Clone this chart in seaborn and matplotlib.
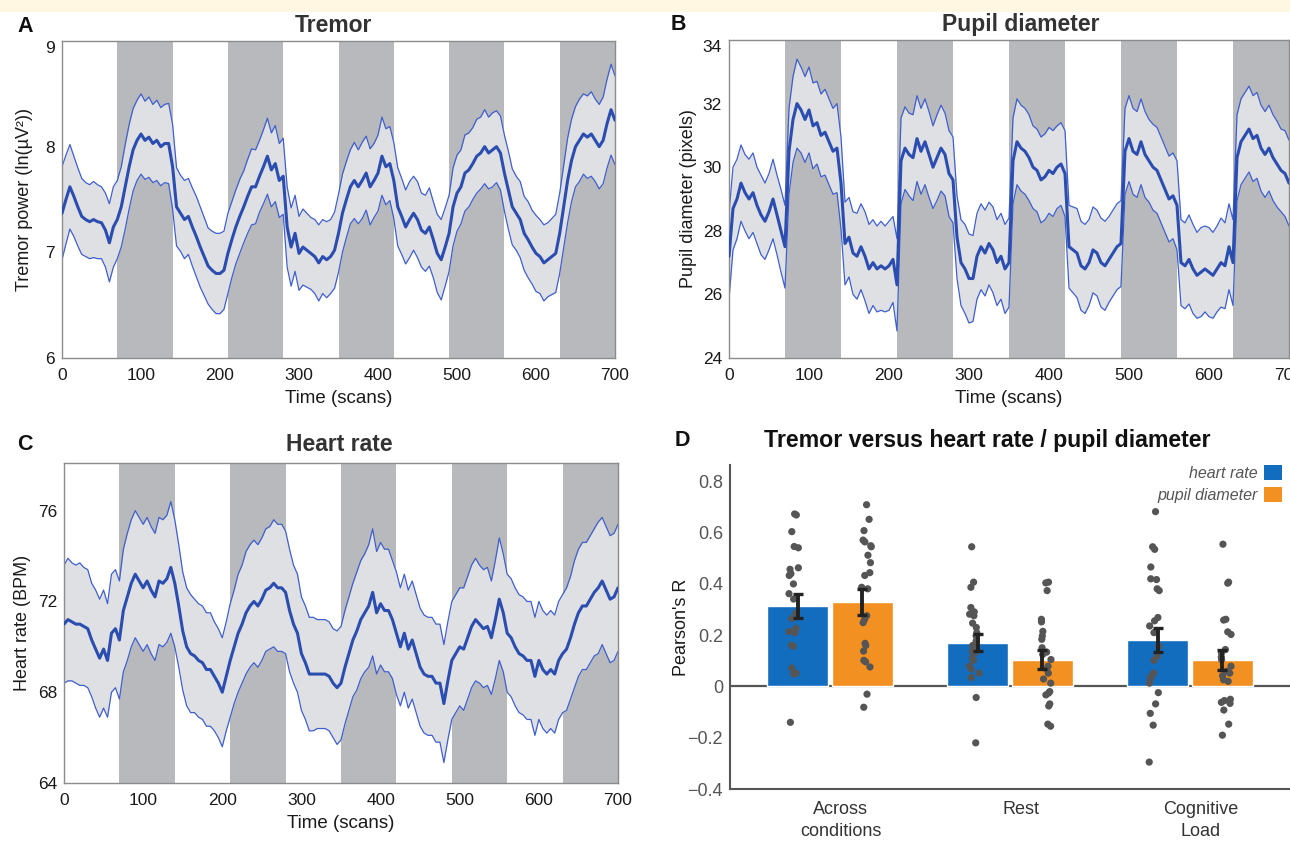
"""
Tremor / pupil / heart-rate block-design figure (panels A-D).
Writes out.png (1290x843).
"""

import numpy as np
import pandas as pd
import matplotlib
matplotlib.use("Agg")
import matplotlib.pyplot as plt
from matplotlib.patches import Patch, Rectangle
from matplotlib.ticker import MultipleLocator, FuncFormatter
import seaborn as sns

# ── Data: time courses (group mean and SEM, every 5 scans) ────────────────────
scans = np.arange(0, 701, 5)
task_blocks = [(70, 140), (210, 280), (350, 420), (490, 560), (630, 700)]

tremor_mean = [
    7.37, 7.50, 7.62, 7.53, 7.43, 7.34, 7.31, 7.29, 7.31, 7.29,
    7.28, 7.21, 7.09, 7.24, 7.31, 7.43, 7.62, 7.81, 7.97, 8.06,
    8.12, 8.06, 8.09, 8.03, 8.06, 8.00, 8.03, 8.03, 7.81, 7.43,
    7.37, 7.31, 7.34, 7.24, 7.15, 7.05, 6.96, 6.87, 6.83, 6.80,
    6.80, 6.83, 6.99, 7.12, 7.24, 7.34, 7.43, 7.53, 7.62, 7.62,
    7.72, 7.81, 7.91, 7.78, 7.84, 7.68, 7.72, 7.24, 7.05, 7.18,
    6.99, 7.05, 7.02, 6.99, 6.96, 6.90, 6.96, 6.93, 6.96, 7.02,
    7.18, 7.37, 7.50, 7.62, 7.68, 7.62, 7.68, 7.75, 7.62, 7.68,
    7.75, 7.91, 7.81, 7.84, 7.68, 7.43, 7.34, 7.24, 7.31, 7.37,
    7.31, 7.21, 7.18, 7.24, 7.12, 6.99, 6.93, 7.05, 7.18, 7.43,
    7.56, 7.62, 7.75, 7.78, 7.84, 7.91, 7.94, 8.00, 7.94, 7.97,
    8.00, 7.94, 7.75, 7.59, 7.43, 7.37, 7.31, 7.18, 7.12, 7.05,
    6.99, 6.96, 6.90, 6.93, 6.96, 6.99, 7.18, 7.43, 7.68, 7.87,
    8.00, 8.06, 8.12, 8.09, 8.12, 8.06, 8.00, 8.06, 8.22, 8.35,
    8.25,
]
tremor_sem = [
    0.44, 0.42, 0.40, 0.38, 0.37, 0.36, 0.35, 0.35, 0.36, 0.35,
    0.34, 0.35, 0.37, 0.38, 0.37, 0.38, 0.40, 0.40, 0.39, 0.38,
    0.38, 0.37, 0.38, 0.37, 0.38, 0.37, 0.37, 0.38, 0.40, 0.37,
    0.36, 0.37, 0.36, 0.37, 0.38, 0.38, 0.37, 0.36, 0.37, 0.38,
    0.38, 0.37, 0.38, 0.36, 0.35, 0.35, 0.34, 0.35, 0.36, 0.35,
    0.34, 0.35, 0.36, 0.35, 0.36, 0.35, 0.36, 0.38, 0.37, 0.36,
    0.35, 0.36, 0.35, 0.34, 0.35, 0.36, 0.35, 0.36, 0.35, 0.36,
    0.37, 0.37, 0.36, 0.35, 0.36, 0.35, 0.36, 0.35, 0.36, 0.35,
    0.36, 0.37, 0.36, 0.35, 0.36, 0.37, 0.36, 0.35, 0.36, 0.35,
    0.36, 0.35, 0.36, 0.37, 0.36, 0.37, 0.38, 0.37, 0.36, 0.37,
    0.36, 0.35, 0.36, 0.35, 0.34, 0.35, 0.34, 0.35, 0.34, 0.35,
    0.34, 0.35, 0.36, 0.37, 0.36, 0.35, 0.36, 0.35, 0.36, 0.35,
    0.36, 0.35, 0.36, 0.35, 0.36, 0.37, 0.38, 0.39, 0.40, 0.39,
    0.38, 0.39, 0.38, 0.39, 0.40, 0.39, 0.40, 0.41, 0.42, 0.43,
    0.42,
]

pupil_mean = [
    27.2, 28.7, 29.0, 29.5, 29.2, 29.0, 29.2, 28.8, 28.5, 28.3,
    28.6, 29.0, 28.5, 28.0, 27.5, 30.5, 31.5, 32.0, 31.8, 31.5,
    31.8, 31.3, 31.4, 31.0, 31.1, 30.8, 30.5, 30.6, 29.5, 27.6,
    27.8, 27.3, 27.2, 27.5, 27.2, 26.8, 27.0, 26.8, 26.9, 26.8,
    26.9, 27.1, 26.3, 30.2, 30.6, 30.4, 30.3, 30.9, 30.5, 30.8,
    30.4, 30.0, 30.3, 30.6, 30.4, 29.8, 29.6, 27.8, 27.0, 26.8,
    26.5, 26.5, 27.2, 27.5, 27.3, 27.6, 27.4, 27.0, 27.2, 26.8,
    27.0, 30.2, 30.8, 30.6, 30.5, 30.3, 30.0, 29.9, 29.6, 29.7,
    29.9, 29.8, 30.0, 30.1, 29.8, 27.5, 27.4, 27.3, 26.9, 26.8,
    27.0, 27.4, 27.3, 27.0, 26.9, 27.1, 27.3, 27.5, 27.6, 30.5,
    30.9, 30.5, 30.4, 30.8, 30.4, 30.2, 30.0, 29.9, 29.6, 29.3,
    29.0, 29.1, 28.8, 27.0, 26.9, 27.1, 26.8, 26.6, 26.7, 26.8,
    26.7, 26.6, 26.8, 27.0, 26.9, 27.5, 27.0, 30.3, 30.8, 31.0,
    31.2, 30.9, 31.0, 30.6, 30.4, 30.6, 30.3, 30.1, 29.9, 29.8,
    29.5,
]
pupil_sem = [
    1.35, 1.30, 1.25, 1.20, 1.20, 1.25, 1.25, 1.20, 1.25, 1.20,
    1.20, 1.25, 1.25, 1.30, 1.30, 1.35, 1.35, 1.40, 1.35, 1.35,
    1.35, 1.35, 1.30, 1.30, 1.35, 1.35, 1.35, 1.40, 1.45, 1.30,
    1.25, 1.30, 1.35, 1.35, 1.40, 1.40, 1.35, 1.35, 1.40, 1.35,
    1.40, 1.35, 1.45, 1.35, 1.30, 1.30, 1.35, 1.35, 1.35, 1.35,
    1.35, 1.30, 1.35, 1.35, 1.30, 1.35, 1.35, 1.30, 1.35, 1.40,
    1.40, 1.35, 1.35, 1.35, 1.35, 1.30, 1.35, 1.35, 1.35, 1.40,
    1.40, 1.35, 1.35, 1.35, 1.35, 1.35, 1.30, 1.30, 1.35, 1.35,
    1.35, 1.35, 1.30, 1.30, 1.35, 1.30, 1.35, 1.40, 1.40, 1.40,
    1.35, 1.35, 1.35, 1.40, 1.40, 1.35, 1.35, 1.35, 1.35, 1.35,
    1.35, 1.35, 1.35, 1.35, 1.35, 1.30, 1.35, 1.35, 1.35, 1.35,
    1.35, 1.35, 1.40, 1.35, 1.35, 1.40, 1.40, 1.35, 1.40, 1.35,
    1.40, 1.35, 1.35, 1.40, 1.35, 1.35, 1.35, 1.35, 1.35, 1.35,
    1.35, 1.35, 1.35, 1.35, 1.35, 1.35, 1.35, 1.35, 1.30, 1.35,
    1.35,
]

heart_mean = [
    71.0, 71.2, 71.1, 71.0, 71.0, 70.9, 70.8, 70.3, 69.9, 69.5,
    69.9, 69.4, 70.6, 70.8, 70.3, 71.6, 72.2, 72.8, 73.2, 72.9,
    72.6, 72.9, 72.5, 72.2, 72.9, 72.8, 73.0, 73.5, 72.8, 71.8,
    70.7, 70.0, 69.7, 69.6, 69.4, 69.3, 69.0, 69.0, 68.7, 68.4,
    68.0, 68.7, 69.4, 70.0, 70.6, 71.0, 71.5, 71.8, 72.0, 71.8,
    72.1, 72.5, 72.6, 72.8, 72.6, 72.6, 72.4, 71.6, 71.0, 70.6,
    69.7, 69.3, 68.8, 68.8, 68.8, 68.8, 68.8, 68.7, 68.4, 68.2,
    68.4, 69.1, 69.7, 70.3, 70.7, 71.2, 71.5, 71.8, 72.4, 71.5,
    71.9, 71.6, 71.6, 71.2, 70.6, 70.0, 70.6, 69.9, 70.3, 69.7,
    69.1, 68.8, 68.7, 68.7, 68.4, 68.4, 67.5, 68.5, 69.4, 69.7,
    70.0, 69.9, 70.4, 70.9, 71.2, 71.0, 70.8, 70.9, 70.4, 71.2,
    72.1, 71.5, 70.6, 70.4, 70.0, 69.7, 69.6, 69.4, 69.4, 68.7,
    69.4, 69.0, 68.8, 69.0, 68.8, 69.4, 69.7, 69.9, 70.4, 71.0,
    71.5, 71.8, 71.8, 72.1, 72.4, 72.6, 72.9, 72.5, 72.1, 72.2,
    72.6,
]
heart_sem = [
    2.6, 2.7, 2.6, 2.6, 2.7, 2.6, 2.6, 2.5, 2.6, 2.6,
    2.6, 2.5, 2.6, 2.6, 2.6, 2.7, 2.8, 2.8, 2.8, 2.8,
    2.8, 2.8, 2.8, 2.8, 2.8, 2.8, 2.8, 2.9, 2.8, 2.7,
    2.6, 2.6, 2.6, 2.5, 2.5, 2.5, 2.5, 2.5, 2.4, 2.4,
    2.4, 2.4, 2.5, 2.5, 2.6, 2.6, 2.7, 2.7, 2.7, 2.7,
    2.7, 2.7, 2.7, 2.8, 2.8, 2.8, 2.7, 2.7, 2.6, 2.6,
    2.5, 2.5, 2.5, 2.5, 2.4, 2.4, 2.4, 2.4, 2.4, 2.5,
    2.5, 2.5, 2.5, 2.5, 2.6, 2.6, 2.6, 2.7, 2.8, 2.7,
    2.7, 2.7, 2.7, 2.6, 2.7, 2.6, 2.6, 2.6, 2.6, 2.6,
    2.6, 2.6, 2.6, 2.6, 2.6, 2.6, 2.6, 2.6, 2.6, 2.6,
    2.6, 2.7, 2.7, 2.7, 2.7, 2.6, 2.6, 2.6, 2.5, 2.6,
    2.7, 2.6, 2.6, 2.6, 2.6, 2.6, 2.6, 2.6, 2.6, 2.6,
    2.6, 2.6, 2.6, 2.6, 2.6, 2.6, 2.6, 2.7, 2.7, 2.8,
    2.8, 2.8, 2.8, 2.8, 2.8, 2.9, 2.8, 2.8, 2.8, 2.8,
    2.8,
]

tremor_yticks = [6, 7, 8, 9]
pupil_yticks  = [24, 26, 28, 30, 32, 34]
heart_yticks  = [64, 68, 72, 76]

# ── Data: panel D (Pearson's R per condition) ─────────────────────────────────
conditions = ["Across\nconditions", "Rest", "Cognitive\nLoad"]
measures   = ["heart rate", "pupil diameter"]

hr_r_mean    = [0.315, 0.171, 0.180]
hr_r_sem     = [0.047, 0.034, 0.047]
pupil_r_mean = [0.328, 0.105, 0.102]
pupil_r_sem  = [0.051, 0.037, 0.039]

hr_r_across = [0.673, 0.669, 0.604, 0.546, 0.541, 0.463, 0.457, 0.440, 0.433, 0.400,
               0.362, 0.341, 0.286, 0.265, 0.227, 0.220, 0.214, 0.210, 0.161, 0.157,
               0.072, 0.052, 0.049, -0.140]
pupil_r_across = [0.709, 0.652, 0.608, 0.571, 0.564, 0.549, 0.545, 0.512, 0.483, 0.444,
                  0.433, 0.387, 0.381, 0.276, 0.262, 0.249, 0.168, 0.160, 0.138, 0.102,
                  0.096, 0.076, -0.030, -0.081]
hr_r_rest = [0.545, 0.407, 0.387, 0.308, 0.291, 0.282, 0.276, 0.247, 0.230, 0.210,
             0.197, 0.177, 0.160, 0.155, 0.138, 0.131, 0.112, 0.102, 0.079, 0.068,
             0.052, 0.035, -0.043, -0.220]
pupil_r_rest = [0.407, 0.404, 0.374, 0.262, 0.252, 0.215, 0.197, 0.184, 0.151, 0.134,
                0.125, 0.105, 0.079, 0.068, 0.052, 0.029, 0.013, -0.020, -0.026, -0.033,
                -0.068, -0.076, -0.147, -0.155]
hr_r_cog = [0.682, 0.545, 0.535, 0.466, 0.420, 0.417, 0.381, 0.374, 0.269, 0.256,
            0.236, 0.210, 0.157, 0.118, 0.102, 0.052, 0.039, 0.033, 0.013, -0.024,
            -0.068, -0.105, -0.151, -0.295]
pupil_r_cog = [0.555, 0.407, 0.403, 0.262, 0.259, 0.213, 0.203, 0.144, 0.131, 0.115,
               0.105, 0.079, 0.059, 0.052, 0.042, 0.026, 0.020, -0.050, -0.055, -0.062,
               -0.066, -0.092, -0.147, -0.190]

# ── Style ─────────────────────────────────────────────────────────────────────
BAND_GREY  = "#b7b9bd"
SEM_FILL   = "#dfe0e3"
LINE_MEAN  = "#2b4db0"
LINE_BOUND = "#3f5fcc"
SPINE_GREY = "#8c8c8c"
BLUE       = "#136dbf"
ORANGE     = "#f29121"
DOT        = "#555555"

sns.set_theme(style="white")
plt.rcParams["font.family"] = ["Liberation Sans", "DejaVu Sans"]
plt.rcParams["axes.unicode_minus"] = True

W, H = 1290, 843
fig = plt.figure(figsize=(W / 100, H / 100), dpi=100)
fig.patches.append(Rectangle((0, 1 - 12 / H), 1, 12 / H, transform=fig.transFigure,
                             facecolor="#fff7e1", edgecolor="none", zorder=0))


def px_axes(left, top, right, bottom):
    return fig.add_axes([left / W, 1 - bottom / H, (right - left) / W, (bottom - top) / H])


def trace_panel(ax, mean, sem, ylim, yticks, minor, ylabel, drop_top=False):
    df = pd.DataFrame({"scan": scans, "mean": mean})
    df["upper"] = df["mean"] + np.asarray(sem)
    df["lower"] = df["mean"] - np.asarray(sem)

    for start, stop in task_blocks:
        ax.axvspan(start, stop, color=BAND_GREY, lw=0, zorder=0)
    ax.fill_between(df["scan"], df["lower"], df["upper"], color=SEM_FILL, lw=0, zorder=1)
    for col in ("upper", "lower"):
        sns.lineplot(data=df, x="scan", y=col, ax=ax, color=LINE_BOUND, lw=0.9, zorder=2)
    sns.lineplot(data=df, x="scan", y="mean", ax=ax, color=LINE_MEAN, lw=2.2, zorder=3)

    ax.set_xlim(0, 700)
    ax.set_ylim(*ylim)
    ax.set_xticks(range(0, 701, 100))
    ax.set_yticks(yticks)
    labels = ax.set_yticklabels([str(v) for v in yticks])
    if drop_top:
        # top tick label hangs just under the frame, as in the original
        labels[-1].set_va("top")
    ax.yaxis.set_minor_locator(MultipleLocator(minor))
    ax.tick_params(which="both", direction="in", color=SPINE_GREY, width=1,
                   labelsize=12.5, labelcolor="#1a1a1a", top=False, right=False)
    ax.tick_params(which="major", length=5)
    ax.tick_params(which="minor", length=4)
    ax.tick_params(axis="x", pad=7)
    ax.tick_params(axis="y", pad=5)
    for sp in ax.spines.values():
        sp.set_color(SPINE_GREY)
        sp.set_linewidth(1.0)
    ax.set_xlabel("Time (scans)", fontsize=13.5, color="#1a1a1a")
    ax.set_ylabel(ylabel, fontsize=13, color="#1a1a1a")
    ax.xaxis.label.set_va("center")
    ax.yaxis.label.set_va("center")
    ax.xaxis.set_label_coords(0.5, -0.128)


# ── Panel A: tremor ───────────────────────────────────────────────────────────
ax_a = px_axes(62, 41, 615, 358)
trace_panel(ax_a, tremor_mean, tremor_sem, (6, 9), tremor_yticks, 0.5,
            "Tremor power (ln(µV²))", drop_top=True)
ax_a.yaxis.set_label_coords(-0.067, 0.5)

# ── Panel B: pupil diameter ───────────────────────────────────────────────────
ax_b = px_axes(729, 40, 1289, 358)
trace_panel(ax_b, pupil_mean, pupil_sem, (24, 34), pupil_yticks, 1,
            "Pupil diameter (pixels)", drop_top=True)
ax_b.yaxis.set_label_coords(-0.073, 0.5)

# ── Panel C: heart rate ───────────────────────────────────────────────────────
ax_c = px_axes(64, 463, 618, 783)
trace_panel(ax_c, heart_mean, heart_sem, (64, 78.1), heart_yticks, 2, "Heart rate (BPM)")
ax_c.yaxis.set_label_coords(-0.075, 0.5)

# ── Panel D: correlation bars ─────────────────────────────────────────────────
ax_d = px_axes(730, 465, 1290, 789)

bars = pd.DataFrame({
    "condition": conditions * 2,
    "measure":   [measures[0]] * 3 + [measures[1]] * 3,
    "r":         hr_r_mean + pupil_r_mean,
})
subject_lists = {
    (conditions[0], measures[0]): hr_r_across,
    (conditions[0], measures[1]): pupil_r_across,
    (conditions[1], measures[0]): hr_r_rest,
    (conditions[1], measures[1]): pupil_r_rest,
    (conditions[2], measures[0]): hr_r_cog,
    (conditions[2], measures[1]): pupil_r_cog,
}
points = pd.DataFrame(
    [(c, m, v) for (c, m), vals in subject_lists.items() for v in vals],
    columns=["condition", "measure", "r"],
)
palette = {measures[0]: BLUE, measures[1]: ORANGE}

sns.barplot(data=bars, x="condition", y="r", hue="measure", order=conditions,
            hue_order=measures, palette=palette, width=0.72, gap=0.05,
            errorbar=None, legend=False, saturation=1, ax=ax_d, zorder=2)

np.random.seed(3)
sns.stripplot(data=points, x="condition", y="r", hue="measure", order=conditions,
              hue_order=measures, palette={m: DOT for m in measures}, dodge=True,
              jitter=0.06, size=5.2, linewidth=0, legend=False, ax=ax_d, zorder=3)

for cont, sems in zip(ax_d.containers, [hr_r_sem, pupil_r_sem]):
    xs = [b.get_x() + b.get_width() / 2 for b in cont]
    ys = [b.get_height() for b in cont]
    ax_d.errorbar(xs, ys, yerr=sems, fmt="none", ecolor="#222222", elinewidth=2.8,
                  capsize=3.4, capthick=2.4, zorder=4)

ax_d.axhline(0, color="#555555", lw=1.6, zorder=1)
ax_d.set_xlim(-0.556, 2.555)
ax_d.set_ylim(-0.4, 0.864)
ax_d.set_yticks([-0.4, -0.2, 0, 0.2, 0.4, 0.6, 0.8])
ax_d.yaxis.set_major_formatter(FuncFormatter(
    lambda v, _: "0" if abs(v) < 1e-9 else f"{v:.1f}".replace("-", "\u2212")))
ax_d.set_xticks(np.arange(len(conditions)) + 0.06)
ax_d.set_xticklabels(conditions, linespacing=1.35)
ax_d.tick_params(axis="both", direction="in", length=6, width=1.2, color="#555555",
                 labelsize=13, labelcolor="#333333")
ax_d.tick_params(axis="x", pad=9)
ax_d.tick_params(axis="y", pad=5, labelcolor="#555555")
ax_d.set_xlabel("")
ax_d.set_ylabel("Pearson's R", fontsize=13, color="#1a1a1a")
ax_d.yaxis.label.set_va("center")
ax_d.yaxis.set_label_coords(-0.086, 0.5)
for side in ("top", "right"):
    ax_d.spines[side].set_visible(False)
for side in ("left", "bottom"):
    ax_d.spines[side].set_color("#555555")
    ax_d.spines[side].set_linewidth(1.5)

handles = [Patch(facecolor=palette[m], edgecolor="none") for m in measures]
leg = ax_d.legend(handles, measures, loc="upper right", bbox_to_anchor=(0.985, 1.0),
                  frameon=False, markerfirst=False, fontsize=11.5, handlelength=1.1,
                  handleheight=1.1, handletextpad=0.4, labelspacing=0.35,
                  borderaxespad=0.0, borderpad=0.0)
for txt in leg.get_texts():
    txt.set_fontstyle("italic")
    txt.set_color("#555555")

# ── Titles and panel letters ──────────────────────────────────────────────────
title_kw = dict(fontsize=16.5, fontweight="bold", color="#333333", ha="center", va="center")
fig.text(333 / W, 1 - 25 / H, "Tremor", **title_kw)
fig.text(1021 / W, 1 - 25 / H, "Pupil diameter", **title_kw)
fig.text(339 / W, 1 - 445 / H, "Heart rate", **title_kw)
fig.text(987 / W, 1 - 441 / H, "Tremor versus heart rate / pupil diameter",
         fontsize=16.7, fontweight="bold", color="#111111", ha="center", va="center")

letter_kw = dict(fontsize=15.5, fontweight="bold", color="#111111", ha="center", va="center")
for letter, x, y in [("A", 25, 26), ("B", 678, 25), ("C", 25, 445), ("D", 682, 441)]:
    fig.text(x / W, 1 - y / H, letter, **letter_kw)

fig.savefig("out.png", dpi=100)
plt.close(fig)
